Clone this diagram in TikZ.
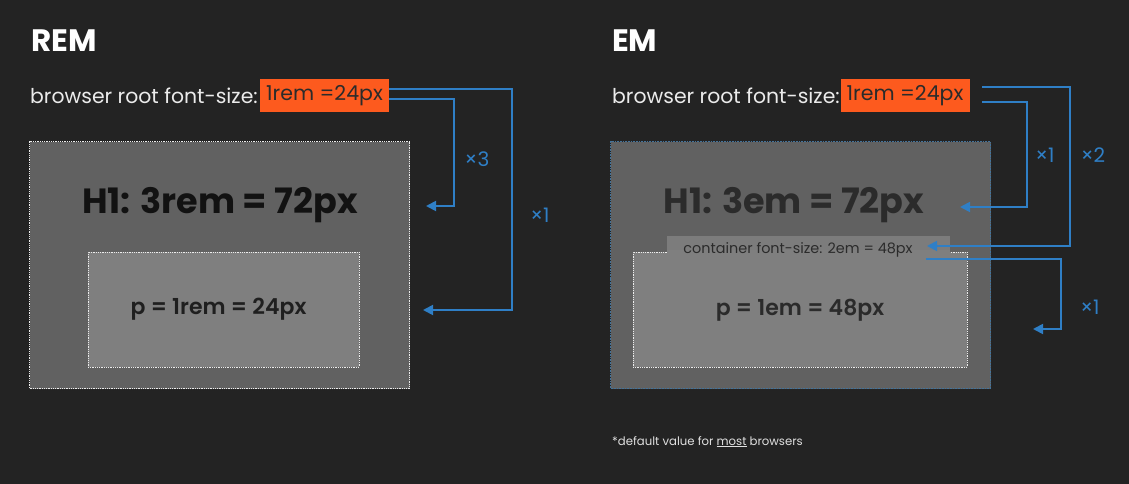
\documentclass[tikz,border=0pt]{standalone}
\usepackage{fontspec}
\setmainfont{Poppins}
\newfontfamily\popsemi{Poppins SemiBold}
\usetikzlibrary{arrows.meta}
\definecolor{bg}{HTML}{232323}
\definecolor{outerfill}{HTML}{616161}
\definecolor{innerfill}{HTML}{7F7F7F}
\definecolor{labelfill}{HTML}{7C7C7C}
\definecolor{accent}{HTML}{FD5A1E}
\definecolor{link}{HTML}{2F7FC6}
\definecolor{emborder}{HTML}{44739A}
\definecolor{darktext}{HTML}{2B2B2B}
\tikzset{
  title/.style={anchor=base west, text=white, font=\bfseries\fontsize{31}{31}\selectfont, inner sep=0pt},
  rootline/.style={anchor=base west, text=white!92!black, font=\fontsize{20.4}{20.4}\selectfont, inner sep=0pt},
  valuebox/.style={fill=accent, text=darktext, font=\fontsize{20.5}{20.5}\selectfont, minimum width=129pt, minimum height=33pt, inner sep=0pt},
  outerbox/.style={fill=outerfill, minimum width=380pt, minimum height=247pt, inner sep=0pt},
  innerbox/.style={fill=innerfill, inner sep=0pt},
  whitedots/.style={draw=white!85!gray, line width=0.9pt, dash pattern=on 0.9pt off 0.9pt},
  headtext/.style={font=\bfseries\fontsize{35}{35}\selectfont, inner sep=0pt},
  ptext/.style={font=\popsemi\fontsize{22}{22}\selectfont, text=darktext, inner sep=0pt},
  conn/.style={draw=link, line width=1.8pt, -{Triangle[length=10pt,width=10pt]}},
  mult/.style={text=link, font=\fontsize{20}{20}\selectfont, inner sep=0pt},
}
\begin{document}
\begin{tikzpicture}[x=1pt,y=-1pt]
\useasboundingbox[fill=bg] (0,0) rectangle (1129,484);

% ---------------- REM ----------------
\node[title] (remtitle) at (31,52) {REM};
\node[valuebox] (remval) at (324.5,96) {1rem =24px};
\node[rootline] (remroot) at (30,104) {browser root font-size:};

\node[outerbox, whitedots] (remouter) at (219.5,265) {};
\node[innerbox, whitedots, minimum width=271pt, minimum height=115pt] (reminner) at (223.5,309.5) {};
\node[headtext, text=black!93] (remh1) at (220,205) {H1: 3rem = 72px};
\node[ptext, text=black!88] (remp) at (218.5,309) {p = 1rem = 24px};

\coordinate (ra1) at (389,89);
\coordinate (ra2) at (389,99);
\coordinate (rt1) at (423,310);
\coordinate (rt2) at (426,206);
\draw[conn] (ra1) -| (512,310) -- (rt1);
\draw[conn] (ra2) -| (454,206) -- (rt2);
\node[mult] (rx3) at (477,159) {×3};
\node[mult] (rx1) at (540,215) {×1};

% ---------------- EM ----------------
\node[title] (emtitle) at (612,52) {EM};
\node[valuebox] (emval) at (905,96) {1rem =24px};
\node[rootline] (emroot) at (612,104) {browser root font-size:};

\node[outerbox, draw=emborder, line width=0.8pt, dash pattern=on 1pt off 0.6pt] (emouter) at (800.5,265) {};
\node[innerbox, whitedots, minimum width=334pt, minimum height=115pt] (eminner) at (800,309.5) {};
\node[fill=labelfill, minimum width=283pt, minimum height=20pt, inner sep=0pt] (emlabelbox) at (808,245.5) {};
\node[fill=innerfill, minimum width=283pt, minimum height=8pt, inner sep=0pt] at (808,254) {};
\node[text=darktext, font=\fontsize{14.4}{14.4}\selectfont, inner sep=0pt] (emlabel) at (798,250) {container font-size: 2em = 48px};
\node[headtext, text=darktext] (emh1) at (794,205) {H1: 3em = 72px};
\node[ptext] (emp) at (800,310) {p = 1em = 48px};

\coordinate (ea1) at (982,87);
\coordinate (ea2) at (982,102);
\coordinate (et1) at (927,246);
\coordinate (et2) at (960,207);
\coordinate (ea3) at (926,259);
\coordinate (et3) at (1033,329);
\draw[conn] (ea1) -| (1070,246) -- (et1);
\draw[conn] (ea2) -| (1027,207) -- (et2);
\draw[conn] (ea3) -| (1061,329) -- (et3);
\node[mult] (ex1) at (1045,155) {×1};
\node[mult] (ex2) at (1093,155) {×2};
\node[mult] (ex1b) at (1090,307) {×1};

\node[anchor=base west, text=white!88!black, font=\fontsize{11.7}{11.7}\selectfont, inner sep=0pt] (foot) at (612,445) {*default value for \underline{most} browsers};
\end{tikzpicture}
\end{document}
